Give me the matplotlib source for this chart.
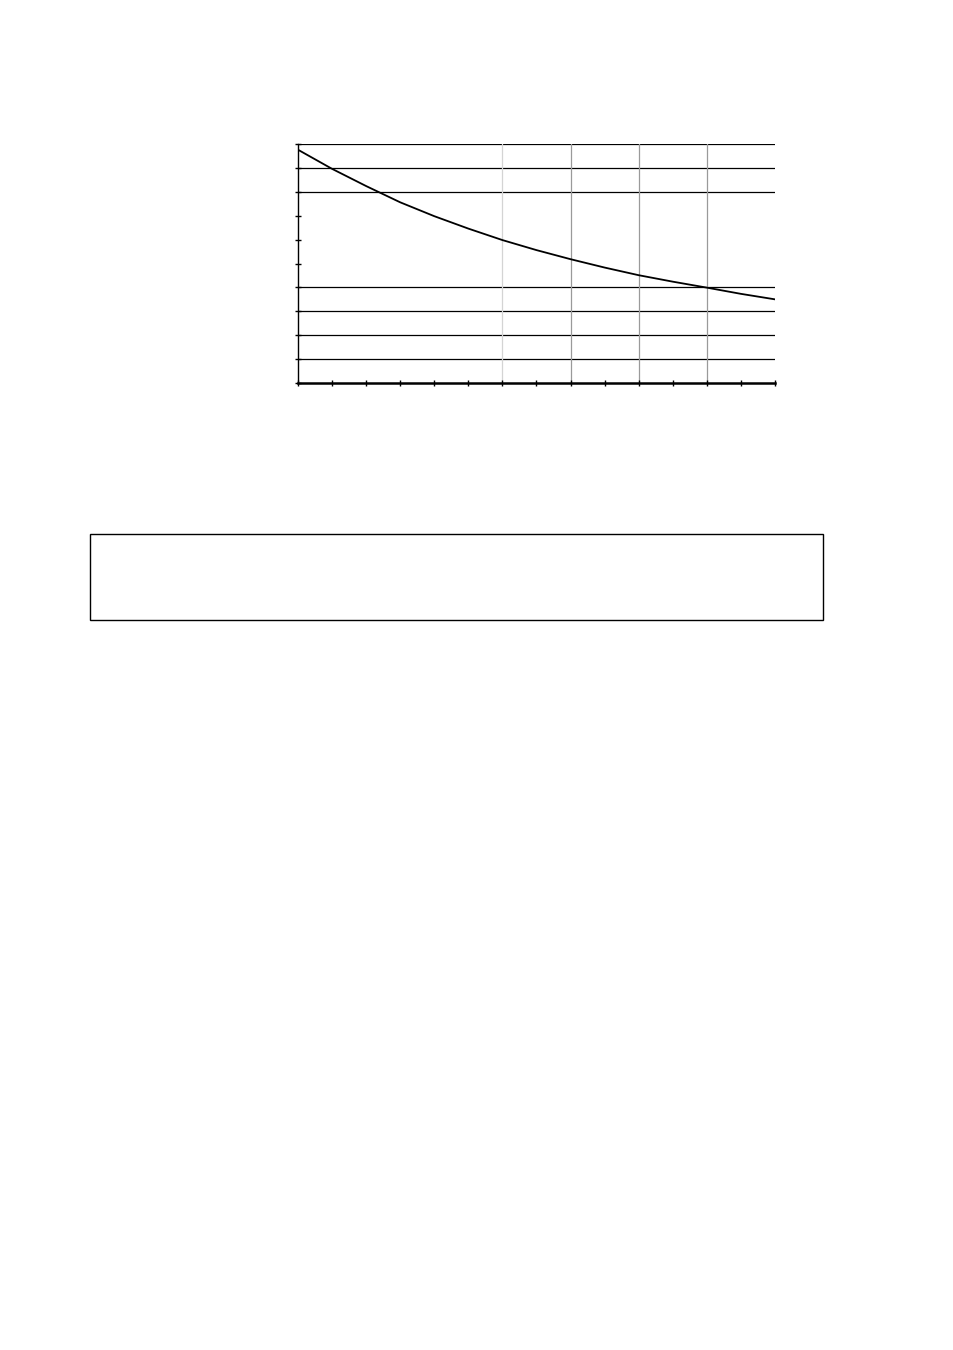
import numpy as np
import matplotlib
matplotlib.use('Agg')
import matplotlib.pyplot as plt
from matplotlib.patches import Rectangle

# curve values, one per x tick
x_vals = [0, 1, 2, 3, 4, 5, 6, 7, 8, 9, 10, 11, 12, 13, 14]
y_vals = [9.76, 8.96, 8.24, 7.56, 6.98, 6.46, 5.98, 5.56, 5.18, 4.83, 4.51, 4.24, 3.99, 3.73, 3.5]

h_grid = [1, 2, 3, 4, 8, 9, 10]
v_grid_light = [6]
v_grid = [8, 10, 12]

fig = plt.figure(figsize=(9.54, 13.5), dpi=100)
ax = fig.add_axes([298 / 954, 1 - 383 / 1350, 477 / 954, 239 / 1350])

for yg in h_grid:
    ax.axhline(yg, color='black', lw=0.9, zorder=1)
for xg in v_grid_light:
    ax.axvline(xg, color='#d4d4d4', lw=0.9, zorder=1)
for xg in v_grid:
    ax.axvline(xg, color='#9a9a9a', lw=0.9, zorder=1)

ax.plot(x_vals, y_vals, color='black', lw=1.3, zorder=3)

ax.set_xlim(0, 14)
ax.set_ylim(0, 10)
ax.set_xticks(np.arange(0, 15, 1))
ax.set_yticks(np.arange(0, 11, 1))
ax.set_xticklabels([])
ax.set_yticklabels([])
ax.tick_params(direction='inout', length=5, width=1, color='black')
ax.spines['top'].set_visible(False)
ax.spines['right'].set_visible(False)
ax.spines['bottom'].set_linewidth(1.8)
ax.spines['left'].set_linewidth(1.0)

# empty framed box below the chart
fig.patches.append(Rectangle((90 / 954, 1 - 620 / 1350), 733 / 954, 86 / 1350,
                             transform=fig.transFigure, fill=False,
                             edgecolor='black', lw=1.0))

fig.savefig('out.png', dpi=100)
